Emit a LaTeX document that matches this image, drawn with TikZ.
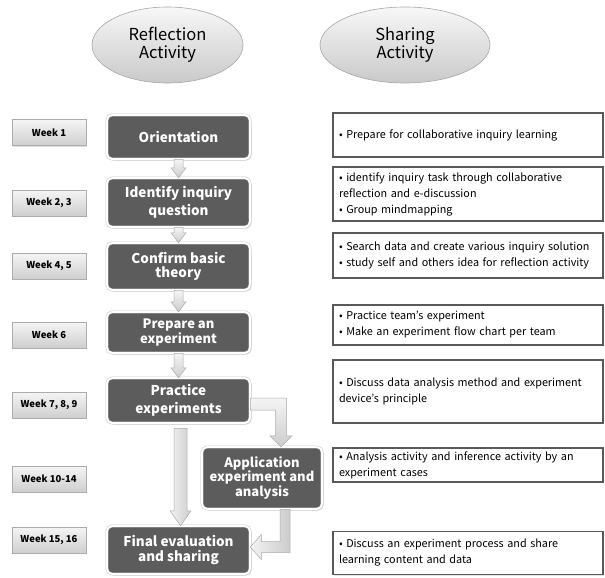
\documentclass[tikz,border=0pt]{standalone}
\usepackage{fontspec}
\setmainfont{Noto Sans CJK KR}
\usetikzlibrary{calc,shadows,shapes.geometric}

\tikzset{
  x=1pt, y=-1pt,
  headoval/.style={ellipse, draw=gray!70, line width=0.6pt,
    top color=gray!6, bottom color=gray!42,
    align=center, inner sep=0pt,
    font=\fontsize{16.5}{18.5}\selectfont},
  weekbox/.style={rectangle, draw=gray!65, line width=0.6pt,
    top color=gray!8, bottom color=gray!38,
    minimum width=74, minimum height=26, inner sep=0pt,
    drop shadow={opacity=0.25, shadow xshift=1pt, shadow yshift=-1pt},
    font=\bfseries\fontsize{9.5}{11}\selectfont},
  stagebox/.style={rectangle, rounded corners=5pt,
    fill=black!64, draw=gray!45, line width=0.5pt,
    double=white, double distance=1.8pt,
    drop shadow={opacity=0.3, shadow xshift=1.5pt, shadow yshift=-1.5pt},
    text=white, align=center, inner sep=0pt,
    font=\bfseries\fontsize{13.5}{18}\selectfont},
  notebox/.style={rectangle, draw=black!65, line width=1.6pt,
    fill=white, minimum width=270, inner sep=0pt,
    drop shadow={opacity=0.2, shadow xshift=1pt, shadow yshift=-1pt},
    text width=258, align=left,
    font=\fontsize{10.8}{16}\selectfont},
  blockarrow/.style={draw=gray!65, line width=0.5pt,
    top color=gray!8, bottom color=gray!40},
  blockarrowh/.style={draw=gray!65, line width=0.5pt,
    left color=gray!10, right color=gray!40},
}

% straight block arrow from the bottom of #1 down to the top of #2
\newcommand\blockdown[5]{%
  % #1 source, #2 target, #3 shaft half width, #4 head half width, #5 head length
  \draw[blockarrow]
    ($(#1.south)+(-#3,0)$) -- ($(#2.north)+(-#3,-#5)$) --
    ($(#2.north)+(-#4,-#5)$) -- (#2.north) --
    ($(#2.north)+(#4,-#5)$) -- ($(#2.north)+(#3,-#5)$) --
    ($(#1.south)+(#3,0)$) -- cycle;}

\begin{document}
\begin{tikzpicture}
\useasboundingbox (0,0) rectangle (605,578);
\fill[white] (0,0) rectangle (605,578);

% column headings
\node[headoval, minimum width=151, minimum height=76] (hr) at (167.5,45)
  {Reflection\\Activity};
\node[headoval, minimum width=170, minimum height=76] (hs) at (405,45)
  {Sharing\\Activity};

% stages of the reflection activity
\node[stagebox, minimum width=143, minimum height=44] (s1) at (178.5,137) {Orientation};
\node[stagebox, minimum width=143, minimum height=49] (s2) at (178.5,202.5) {Identify inquiry\\question};
\node[stagebox, minimum width=143, minimum height=47,
      font=\bfseries\fontsize{13.5}{14.5}\selectfont] (s3) at (178.5,266.5) {Confirm basic\\theory};
\node[stagebox, minimum width=143, minimum height=41,
      font=\bfseries\fontsize{13}{12.5}\selectfont] (s4) at (178.5,332.5) {Prepare an\\experiment};
\node[stagebox, minimum width=143, minimum height=45] (s5) at (178.5,400.5) {Practice\\experiments};
\node[stagebox, minimum width=120, minimum height=62,
      font=\bfseries\fontsize{13}{13}\selectfont] (s6) at (262,478) {Application\\experiment and\\analysis};
\node[stagebox, minimum width=143, minimum height=48,
      font=\bfseries\fontsize{13.5}{14.5}\selectfont] (s7) at (178.5,550) {Final evaluation\\and sharing};

% weeks
\node[weekbox] (w1) at (49,132.5) {Week 1};
\node[weekbox] (w2) at (49,203) {Week 2, 3};
\node[weekbox] (w3) at (49,266) {Week 4, 5};
\node[weekbox] (w4) at (49,335) {Week 6};
\node[weekbox] (w5) at (49,405) {Week 7, 8, 9};
\node[weekbox] (w6) at (49,479) {Week 10-14};
\node[weekbox] (w7) at (49,540) {Week 15, 16};

% sharing activities
\node[notebox, minimum height=44] (r1) at (468,135)
  {• Prepare for collaborative inquiry learning};
\node[notebox, minimum height=54] (r2) at (468,194)
  {• identify inquiry task through collaborative\\reflection and e-discussion\\• Group mindmapping};
\node[notebox, minimum height=45] (r3) at (468,255.5)
  {• Search data and create various inquiry solution\\• study self and others idea for reflection activity};
\node[notebox, minimum height=40] (r4) at (468,325)
  {• Practice team's experiment\\• Make an experiment flow chart per team};
\node[notebox, minimum height=63] (r5) at (468,391.5)
  {• Discuss data analysis method and experiment\\device's principle};
\node[notebox, minimum height=34] (r6) at (468,465)
  {• Analysis activity and inference activity by an\\experiment cases};
\node[notebox, minimum height=43] (r7) at (468,553)
  {• Discuss an experiment process and share\\learning content and data};

% arrows between the stages
\blockdown{s1}{s2}{4.5}{7.5}{10}
\blockdown{s2}{s3}{4.5}{7.5}{10}
\blockdown{s3}{s4}{4.5}{7.5}{10}
\blockdown{s4}{s5}{4.5}{7.5}{10}

% long arrow from practice to the final stage
\coordinate (t7) at ($(s7.north)+(2,0)$);
\draw[blockarrowh]
  ($(s5.south)+(-4.5,5)$) -- ($(t7)+(-6.5,-15)$) -- ($(t7)+(-10.5,-15)$) -- (t7) --
  ($(t7)+(10.5,-15)$) -- ($(t7)+(6.5,-15)$) -- ($(s5.south)+(8.5,5)$) -- cycle;

% bent arrow from practice to the application stage
\coordinate (o6) at ($(s5.east)+(0,3.5)$);
\coordinate (t6) at ($(s6.north)+(19,0)$);
\draw[blockarrow]
  ($(o6)+(0,-6)$) -- ($(t6 |- o6)+(5.5,-6)$) -- ($(t6)+(5.5,-11)$) --
  ($(t6)+(11,-11)$) -- (t6) -- ($(t6)+(-11,-11)$) -- ($(t6)+(-5.5,-11)$) --
  ($(t6 |- o6)+(-5.5,6)$) -- ($(o6)+(0,6)$) -- cycle;

% bent arrow from the application stage to the final stage
\coordinate (o8) at ($(s6.south)+(23,0)$);
\coordinate (t8) at ($(s7.east)+(0,-3)$);
\draw[blockarrowh]
  ($(o8)+(-5,0)$) -- ($(o8)+(5,0)$) -- ($(o8 |- t8)+(5,5.5)$) --
  ($(t8)+(11,5.5)$) -- ($(t8)+(11,12.5)$) -- (t8) -- ($(t8)+(11,-12.5)$) --
  ($(t8)+(11,-5.5)$) -- ($(o8 |- t8)+(-5,-5.5)$) -- cycle;
\end{tikzpicture}
\end{document}
